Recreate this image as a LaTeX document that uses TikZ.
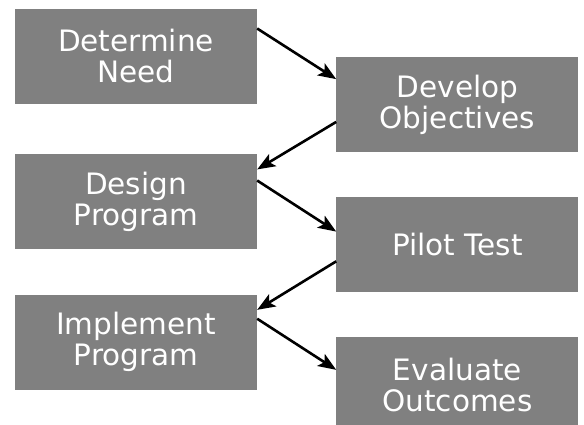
\documentclass[tikz,border=0pt]{standalone}
\usepackage{fontspec}
\newfontfamily\stagefont{DejaVu Sans}
\usetikzlibrary{arrows.meta,positioning}
\definecolor{stagegray}{RGB}{128,128,128}

\begin{document}
\begin{tikzpicture}[
            x=1pt, y=1pt,
            font={\stagefont\fontsize{29.5}{31}\selectfont},
            stage/.style={fill=stagegray, text=white, align=center, inner sep=0pt, minimum width=242pt, minimum height=95pt},
            arrow/.style={-{Stealth[length=18pt,width=14pt,inset=4pt]}, line width=2.6pt, black}
        ]
            \useasboundingbox (0,0) rectangle (584,-425);

            % left column
            \node[stage] (need) at (136,-56.5) {Determine\\Need};
            \node[stage, below=50pt of need] (design) {Design\\Program};
            \node[stage, below=45pt of design] (implement) {Implement\\Program};

            % right column
            \node[stage, below right=-47pt and 79pt of need] (objectives) {Develop\\Objectives};
            \node[stage, below=44pt of objectives] (pilot) {Pilot Test};
            \node[stage, below=45pt of pilot] (evaluate) {Evaluate\\Outcomes};

            \draw[arrow] (need.13) -- (objectives.168);
            \draw[arrow] (objectives.188) -- (design.15);
            \draw[arrow] (design.10) -- (pilot.174);
            \draw[arrow] (pilot.188) -- (implement.15);
            \draw[arrow] (implement.11) -- (evaluate.173);
        \end{tikzpicture}
\end{document}
